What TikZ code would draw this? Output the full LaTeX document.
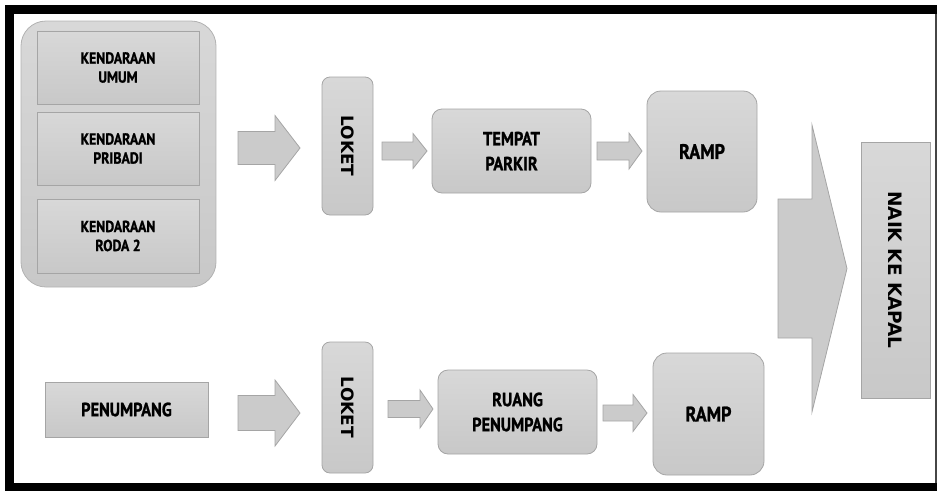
\documentclass[tikz,border=0pt]{standalone}
\usepackage{fontspec}
\usepackage{tikz}
\newfontfamily\boxfont[FakeStretch=0.86, BoldFeatures={FakeBold=1.2}]{PT Sans}
\newfontfamily\vertfont{DejaVu Sans}
\definecolor{boxtop}{RGB}{216,216,216}
\definecolor{boxbot}{RGB}{200,200,200}
\definecolor{boxline}{RGB}{165,165,165}
\definecolor{framegray}{RGB}{70,70,70}

% block arrow: x start, head base, tip, y centre, shaft half, head half
\newcommand\barrow[6]{\draw[blockarrow] (#1,#4-#5) -- (#2,#4-#5) -- (#2,#4-#6) -- (#3,#4)
  -- (#2,#4+#6) -- (#2,#4+#5) -- (#1,#4+#5) -- cycle;}

\tikzset{
  box/.style={draw=boxline, line width=0.8pt, top color=boxtop, bottom color=boxbot,
    align=center, inner sep=0pt, font=\boxfont\bfseries\fontsize{19}{25}\selectfont},
  roundbox/.style={box, rounded corners=10pt},
  vbox/.style={box, rotate=-90, font=\vertfont\bfseries\fontsize{17}{20}\selectfont},
  blockarrow/.style={draw=boxline, line width=0.8pt, fill=boxbot!80!boxtop}
}

\begin{document}
\begin{tikzpicture}[x=1pt,y=-1pt]
\useasboundingbox (0,0) rectangle (937,491);

% Frame
\fill[black] (5,5) rectangle (937,14);
\fill[black] (5,5) rectangle (14,490);
\fill[black] (5,483) rectangle (937,491);
\fill[framegray] (935,14) rectangle (937,483);

% Vehicles
\node[box, rounded corners=25pt, minimum width=195pt, minimum height=266pt,
  draw=boxline!85!white] (vehicles) at (118.5,154) {};
\node[box, font=\boxfont\bfseries\fontsize{16}{19}\selectfont, minimum width=162pt,
  minimum height=73pt] (umum) at (118,67.5) {KENDARAAN\\UMUM};
\node[box, font=\boxfont\bfseries\fontsize{16}{19}\selectfont, minimum width=162pt,
  minimum height=73pt] (pribadi) at (118,148.5) {KENDARAAN\\PRIBADI};
\node[box, font=\boxfont\bfseries\fontsize{16}{19}\selectfont, minimum width=162pt,
  minimum height=74pt] (roda) at (118,236) {KENDARAAN\\RODA 2};

% Vehicle line
\node[vbox, rounded corners=8pt, minimum width=138pt, minimum height=51pt] (loketA) at (347.5,146) {LOKET};
\node[roundbox, minimum width=159pt, minimum height=84pt] (parkir) at (511.5,151) {TEMPAT\\PARKIR};
\node[roundbox, rounded corners=14pt, minimum width=110pt, minimum height=121pt,
  font=\boxfont\bfseries\fontsize{21}{24}\selectfont] (rampA) at (702,151.5) {RAMP};

% Passenger line
\node[box, minimum width=163pt, minimum height=55pt] (penumpang) at (126.5,409.5) {PENUMPANG};
\node[vbox, rounded corners=8pt, minimum width=131pt, minimum height=51pt] (loketB) at (347.5,407.5) {LOKET};
\node[roundbox, minimum width=159pt, minimum height=84pt] (ruang) at (517.5,412) {RUANG\\PENUMPANG};
\node[roundbox, rounded corners=14pt, minimum width=111pt, minimum height=122pt,
  font=\boxfont\bfseries\fontsize{21}{24}\selectfont] (rampB) at (708.5,414) {RAMP};

% Ship
\node[vbox, minimum width=256pt, minimum height=69pt,
  font=\vertfont\bfseries\fontsize{18.5}{20}\selectfont] (kapal) at (895.5,270) {NAIK KE KAPAL};

% Arrows
\barrow{238}{275}{300}{148}{16.5}{32.5}
\barrow{382}{413}{427}{151}{9}{17.5}
\barrow{597}{629}{642}{151}{9}{18}
\barrow{238}{275}{300}{413}{17.5}{33}
\barrow{388}{420}{433}{409}{8.5}{19}
\barrow{603}{633}{647}{413}{8}{18.5}
\barrow{778}{812}{847}{268.5}{69.5}{143.5}

\end{tikzpicture}
\end{document}
